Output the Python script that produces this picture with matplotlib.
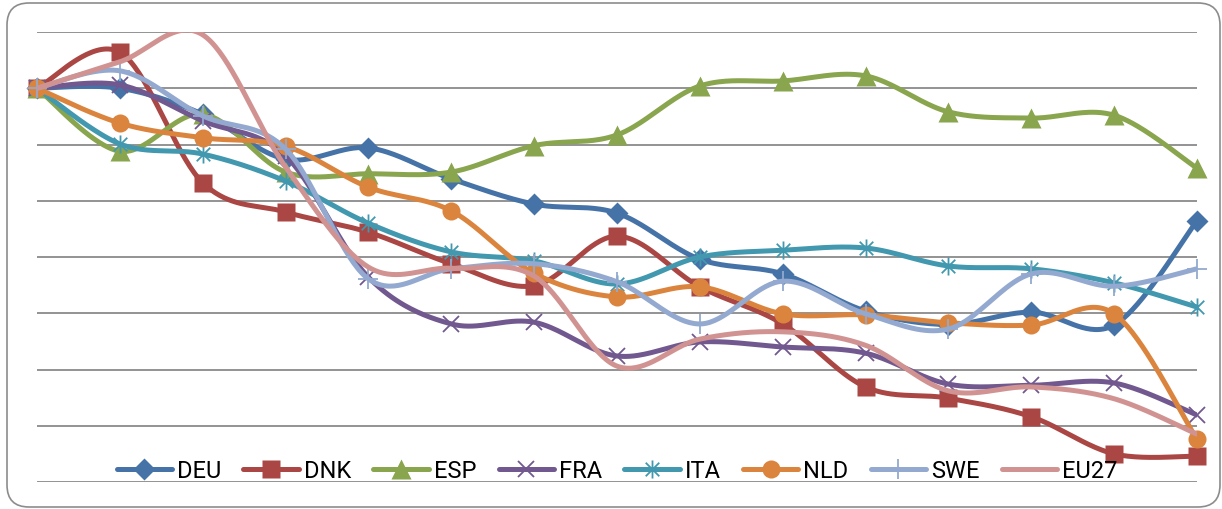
import numpy as np
import matplotlib
matplotlib.use("Agg")
import matplotlib.pyplot as plt
from matplotlib.lines import Line2D
from matplotlib.path import Path
from matplotlib.patches import FancyBboxPatch
from matplotlib.transforms import IdentityTransform

plt.rcParams['font.family'] = ['Roboto', 'DejaVu Sans']

# ---- data -------------------------------------------------------------
periods = list(range(15))

deu = [7.00, 7.00, 6.54, 5.74, 5.94, 5.39, 4.94, 4.78, 3.96, 3.70, 3.04, 2.80, 3.02, 2.79, 4.64]
dnk = [7.00, 7.64, 5.32, 4.80, 4.44, 3.88, 3.49, 4.37, 3.47, 2.81, 1.69, 1.49, 1.16, 0.50, 0.46]
esp = [7.00, 5.88, 6.54, 5.51, 5.48, 5.51, 5.98, 6.17, 7.04, 7.13, 7.22, 6.58, 6.47, 6.52, 5.58]
fra = [7.00, 7.06, 6.42, 5.80, 3.64, 2.81, 2.84, 2.24, 2.49, 2.40, 2.29, 1.74, 1.72, 1.76, 1.19]
ita = [7.00, 6.01, 5.83, 5.35, 4.60, 4.09, 3.93, 3.52, 4.00, 4.12, 4.16, 3.84, 3.79, 3.54, 3.11]
nld = [7.00, 6.38, 6.12, 5.97, 5.24, 4.82, 3.71, 3.29, 3.47, 2.99, 2.97, 2.83, 2.79, 2.99, 0.76]
swe = [7.00, 7.31, 6.51, 5.92, 3.61, 3.79, 3.88, 3.56, 2.81, 3.57, 2.99, 2.72, 3.70, 3.48, 3.79]
eu27 = [7.00, 7.47, 7.95, 5.60, 3.82, 3.80, 3.66, 2.06, 2.54, 2.67, 2.43, 1.62, 1.69, 1.48, 0.85]

series_names = ['DEU', 'DNK', 'ESP', 'FRA', 'ITA', 'NLD', 'SWE', 'EU27']
series_values = [deu, dnk, esp, fra, ita, nld, swe, eu27]
colors = ['#4572A7', '#AA4643', '#89A54E', '#71588F', '#4198AF', '#DB843D', '#93A9CF', '#D19392']

# six-spoke asterisk: vertical bar plus a diagonal cross
star_path = Path(
    [(0, -1), (0, 1), (-0.75, -0.75), (0.75, 0.75), (-0.75, 0.75), (0.75, -0.75)],
    [Path.MOVETO, Path.LINETO, Path.MOVETO, Path.LINETO, Path.MOVETO, Path.LINETO],
)

marker_styles = [
    dict(marker='D', markersize=11, mec='none'),
    dict(marker='s', markersize=13.5, mec='none'),
    dict(marker='^', markersize=15, mec='none'),
    dict(marker='x', markersize=11, mew=1.3),
    dict(marker=star_path, markersize=13, mew=1.3),
    dict(marker='o', markersize=13, mec='none'),
    dict(marker='+', markersize=14, mew=1.3),
    None,
]


def smooth(xs, ys, n=40):
    """Cardinal (Catmull-Rom) spline through the points, as cubic Beziers."""
    xs = np.asarray(xs, float)
    ys = np.asarray(ys, float)
    px = np.concatenate([[xs[0]], xs, [xs[-1]]])
    py = np.concatenate([[ys[0]], ys, [ys[-1]]])
    t = np.linspace(0, 1, n)
    out_x, out_y = [], []
    for i in range(1, len(px) - 2):
        p0x, p1x, p2x, p3x = px[i - 1], px[i], px[i + 1], px[i + 2]
        p0y, p1y, p2y, p3y = py[i - 1], py[i], py[i + 1], py[i + 2]
        c1x, c1y = p1x + (p2x - p0x) / 6, p1y + (p2y - p0y) / 6
        c2x, c2y = p2x - (p3x - p1x) / 6, p2y - (p3y - p1y) / 6
        b0, b1, b2, b3 = (1 - t) ** 3, 3 * (1 - t) ** 2 * t, 3 * (1 - t) * t ** 2, t ** 3
        out_x.append(b0 * p1x + b1 * c1x + b2 * c2x + b3 * p2x)
        out_y.append(b0 * p1y + b1 * c1y + b2 * c2y + b3 * p2y)
    return np.concatenate(out_x), np.concatenate(out_y)


fig = plt.figure(figsize=(12.22, 5.10), dpi=100)
ax = fig.add_axes([37 / 1222, 27 / 510, 1160 / 1222, 450 / 510])

for spine in ax.spines.values():
    spine.set_visible(False)
ax.set_xlim(0, 14)
ax.set_ylim(0, 8)
ax.set_yticks(range(9))
ax.set_xticks([])
ax.tick_params(left=False, labelleft=False)
ax.grid(axis='y', color='#8a8a8a', lw=1.3)
ax.set_axisbelow(True)

handles = []
for name, vals, col, ms in zip(series_names, series_values, colors, marker_styles):
    sx, sy = smooth(periods, vals)
    ax.plot(sx, sy, color=col, lw=3.6, solid_capstyle='round', zorder=3)
    if ms is not None:
        ax.plot(periods, vals, ls='none', color=col, zorder=3, clip_on=False, **ms)
        handles.append(Line2D([], [], color=col, lw=3.6, solid_capstyle='round', **ms))
    else:
        handles.append(Line2D([], [], color=col, lw=3.6, solid_capstyle='round'))

ax.legend(handles, series_names, loc='center', bbox_to_anchor=(0.5, 0.025), ncol=8,
          frameon=False, fontsize=17, handlelength=2.35, handletextpad=0.2,
          columnspacing=0.95, borderpad=0, numpoints=1)

# rounded chart-area border
border = FancyBboxPatch((7, 2), 1213, 504, boxstyle='round,pad=0,rounding_size=22',
                        transform=IdentityTransform(), fill=False, ec='#8c8c8c', lw=1.2)
fig.patches.append(border)

fig.savefig('out.png', dpi=100)
